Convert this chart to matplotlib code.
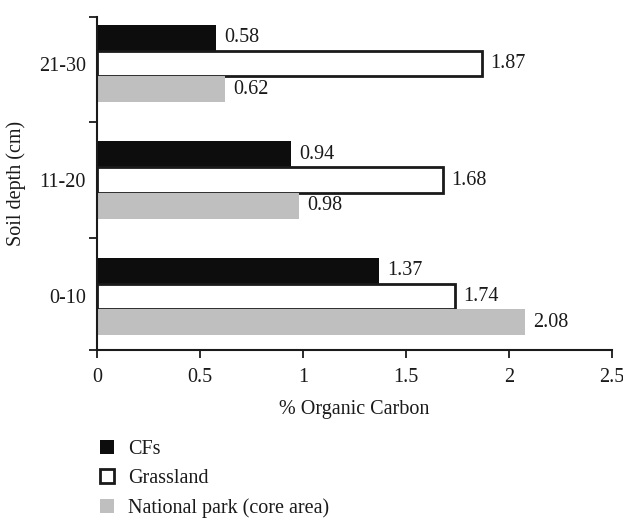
import matplotlib.pyplot as plt
from matplotlib.patches import Patch
import numpy as np

plt.rcParams['font.family'] = ['Liberation Serif', 'DejaVu Serif']

depths = ['0-10', '11-20', '21-30']
cfs = [1.37, 0.94, 0.58]
grassland = [1.74, 1.68, 1.87]
national_park = [2.08, 0.98, 0.62]
series_names = ['CFs', 'Grassland', 'National park (core area)']

fs = 14.5
fig = plt.figure(figsize=(6.23, 5.23), dpi=100)
ax = fig.add_axes([0.1557, 0.3308, 0.8263, 0.6367])

y = np.arange(len(depths))
h = 0.222
ink = '#1a1a1a'

b1 = ax.barh(y + h, cfs, height=h, color='#0d0d0d', edgecolor='none')
b2 = ax.barh(y, grassland, height=h, color='white', edgecolor=ink, linewidth=2)
b3 = ax.barh(y - h, national_park, height=h, color='#bfbfbf', edgecolor='none')

for bars, vals in ((b1, cfs), (b2, grassland), (b3, national_park)):
    for b, v in zip(bars, vals):
        ax.text(v + 0.04, b.get_y() + b.get_height() / 2, '%.2f' % v,
                va='center', ha='left', fontsize=fs, color=ink)

ax.set_xlim(0, 2.5)
ax.set_ylim(-0.46, 2.40)
ax.set_xticks([0, 0.5, 1, 1.5, 2, 2.5])
ax.set_xticklabels(['0', '0.5', '1', '1.5', '2', '2.5'])
ax.set_yticks([-0.46, 0.5, 1.5, 2.40])
ax.set_yticklabels([])
ax.set_yticks(y, minor=True)
ax.set_yticklabels(depths, minor=True)
ax.tick_params(axis='y', which='minor', length=0, pad=8)
ax.tick_params(axis='both', which='major', direction='out', length=6,
               width=1.3, color=ink, labelsize=fs, labelcolor=ink)
ax.tick_params(axis='y', which='minor', labelsize=fs, labelcolor=ink)
ax.tick_params(axis='x', pad=7)

for s in ('top', 'right'):
    ax.spines[s].set_visible(False)
for s in ('left', 'bottom'):
    ax.spines[s].set_color(ink)
    ax.spines[s].set_linewidth(1.5)

ax.set_xlabel('% Organic Carbon', fontsize=fs, color=ink, labelpad=9)
ax.set_ylabel('Soil depth (cm)', fontsize=fs, color=ink, labelpad=9)

handles = [Patch(facecolor='#0d0d0d', edgecolor='none'),
           Patch(facecolor='white', edgecolor=ink, linewidth=2),
           Patch(facecolor='#bfbfbf', edgecolor='none')]
fig.legend(handles, series_names, loc='upper left',
           bbox_to_anchor=(100 / 623, 1 - 440 / 523),
           borderpad=0, borderaxespad=0,
           frameon=False, fontsize=fs, handlelength=0.7, handleheight=0.7,
           handletextpad=0.7, labelspacing=0.5, labelcolor=ink)

fig.savefig('out.png', dpi=100)
